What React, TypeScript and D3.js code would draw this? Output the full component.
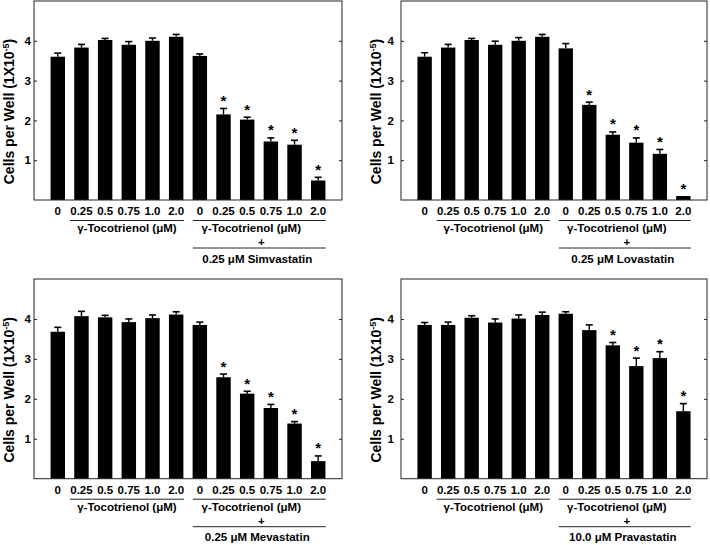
import React, { useEffect, useRef } from 'react';
import * as d3 from 'd3';

// dose labels, shared by both groups in every panel
const doses = ['0', '0.25', '0.5', '0.75', '1.0', '2.0'];
const yTicks = [1, 2, 3, 4];

// means (1x10^-5 cells per well) and SEM, 6 tocotrienol-only then 6 with statin
const simvastatinMeans = [3.6, 3.83, 4.02, 3.9, 4.0, 4.1, 3.62, 2.15, 2.02, 1.47, 1.39, 0.49];
const simvastatinErrors = [0.09, 0.08, 0.04, 0.08, 0.07, 0.06, 0.05, 0.15, 0.06, 0.09, 0.11, 0.08];
const simvastatinStars = [0, 0, 0, 0, 0, 0, 0, 1, 1, 1, 1, 1];

const lovastatinMeans = [3.6, 3.83, 4.02, 3.9, 4.0, 4.1, 3.81, 2.39, 1.64, 1.44, 1.16, 0.1];
const lovastatinErrors = [0.1, 0.08, 0.04, 0.09, 0.08, 0.06, 0.12, 0.07, 0.07, 0.12, 0.11, 0];
const lovastatinStars = [0, 0, 0, 0, 0, 0, 0, 1, 1, 1, 1, 1];

const mevastatinMeans = [3.68, 4.07, 4.04, 3.92, 4.02, 4.11, 3.85, 2.54, 2.13, 1.77, 1.38, 0.44];
const mevastatinErrors = [0.11, 0.12, 0.05, 0.08, 0.08, 0.07, 0.07, 0.08, 0.06, 0.09, 0.05, 0.13];
const mevastatinStars = [0, 0, 0, 0, 0, 0, 0, 1, 1, 1, 1, 1];

const pravastatinMeans = [3.85, 3.85, 4.03, 3.91, 4.01, 4.1, 4.13, 3.72, 3.34, 2.82, 3.02, 1.69];
const pravastatinErrors = [0.06, 0.07, 0.05, 0.09, 0.09, 0.07, 0.05, 0.13, 0.07, 0.2, 0.16, 0.19];
const pravastatinStars = [0, 0, 0, 0, 0, 0, 0, 0, 1, 1, 1, 1];

const panels = [
  { means: simvastatinMeans, errors: simvastatinErrors, stars: simvastatinStars, statin: '0.25 \u03bcM Simvastatin', x0: 34, x1: 342, top: 1, bottom: 200, gap: 3 },
  { means: lovastatinMeans, errors: lovastatinErrors, stars: lovastatinStars, statin: '0.25 \u03bcM Lovastatin', x0: 401, x1: 707, top: 1, bottom: 200, gap: 7 },
  { means: mevastatinMeans, errors: mevastatinErrors, stars: mevastatinStars, statin: '0.25 \u03bcM Mevastatin', x0: 34, x1: 342, top: 279, bottom: 478.7, gap: 3 },
  { means: pravastatinMeans, errors: pravastatinErrors, stars: pravastatinStars, statin: '10.0 \u03bcM Pravastatin', x0: 401, x1: 707, top: 279, bottom: 478.7, gap: 7 },
];

const font = 'Liberation Sans, Arial, Helvetica, sans-serif';

const App = () => {
  const chartRef = useRef(null);

  useEffect(() => {
    const svg = d3.select(chartRef.current);
    svg.selectAll('*').remove();

    panels.forEach(p => {
      const g = svg.append('g');
      const keys = d3.range(12);
      const x = d3.scaleBand()
        .domain(keys)
        .range([p.x0, p.x1])
        .paddingInner(0.39)
        .paddingOuter(0.7);
      const y = d3.scaleLinear().domain([0, 5]).range([p.bottom, p.top]);
      const cx = i => x(i) + x.bandwidth() / 2;

      // bars
      g.selectAll('rect.bar')
        .data(p.means)
        .join('rect')
        .attr('class', 'bar')
        .attr('x', (d, i) => x(i))
        .attr('y', d => y(d))
        .attr('width', x.bandwidth())
        .attr('height', d => y(0) - y(d))
        .attr('fill', '#000');

      // error bars (upper only)
      p.means.forEach((m, i) => {
        const e = p.errors[i];
        if (e <= 0) return;
        g.append('line')
          .attr('x1', cx(i)).attr('x2', cx(i))
          .attr('y1', y(m)).attr('y2', y(m + e))
          .attr('stroke', '#000').attr('stroke-width', 1.4);
        g.append('line')
          .attr('x1', cx(i) - 3.5).attr('x2', cx(i) + 3.5)
          .attr('y1', y(m + e)).attr('y2', y(m + e))
          .attr('stroke', '#000').attr('stroke-width', 1.6);
      });

      // significance stars
      p.means.forEach((m, i) => {
        if (!p.stars[i]) return;
        g.append('text')
          .attr('x', cx(i))
          .attr('y', y(m + p.errors[i]) - 2.5)
          .attr('text-anchor', 'middle')
          .style('font', `bold 15px ${font}`)
          .text('*');
      });

      // frame
      g.append('rect')
        .attr('x', p.x0).attr('y', p.top)
        .attr('width', p.x1 - p.x0).attr('height', p.bottom - p.top)
        .attr('fill', 'none').attr('stroke', '#222').attr('stroke-width', 1);

      // inward ticks on both sides
      const leftAxis = d3.axisLeft(y).tickValues(yTicks).tickSizeInner(-3).tickSizeOuter(0)
        .tickPadding(p.gap).tickFormat(d3.format('d'));
      const rightAxis = d3.axisRight(y).tickValues(yTicks).tickSizeInner(-3).tickSizeOuter(0).tickFormat(() => '');
      const la = g.append('g').attr('transform', `translate(${p.x0},0)`).call(leftAxis);
      la.select('.domain').remove();
      la.selectAll('text').style('font', `bold 11.5px ${font}`).attr('fill', '#000');
      la.selectAll('line').attr('stroke', '#222');
      const ra = g.append('g').attr('transform', `translate(${p.x1},0)`).call(rightAxis);
      ra.select('.domain').remove();
      ra.selectAll('line').attr('stroke', '#222');

      // y title
      const title = g.append('text')
        .attr('transform', `translate(${p.x0 - 20},${(p.top + p.bottom) / 2 + 11}) rotate(-90)`)
        .attr('text-anchor', 'middle')
        .style('font', `bold 14px ${font}`);
      title.append('tspan').text('Cells per Well (1X10');
      title.append('tspan').attr('dy', -5).style('font-size', '9px').text('-5');
      title.append('tspan').attr('dy', 5).text(')');

      // dose labels
      g.selectAll('text.dose')
        .data(keys)
        .join('text')
        .attr('class', 'dose')
        .attr('x', i => cx(i))
        .attr('y', p.bottom + 15)
        .attr('text-anchor', 'middle')
        .style('font', `bold 11.5px ${font}`)
        .text(i => doses[i % 6]);

      // group brackets
      const l1a = cx(1) - 11.5, l1b = cx(5) + 7.7;
      const l2a = cx(6) - 7, l2b = cx(11) + 7.5;
      [[l1a, l1b, p.bottom + 20.5], [l2a, l2b, p.bottom + 20.5], [l2a, l2b, p.bottom + 48]].forEach(([a, b, yy]) => {
        g.append('line')
          .attr('x1', a).attr('x2', b).attr('y1', yy).attr('y2', yy)
          .attr('stroke', '#222').attr('stroke-width', 1);
      });

      const addLabel = (tx, ty, s) => g.append('text')
        .attr('x', tx).attr('y', ty)
        .attr('text-anchor', 'middle')
        .style('font', `bold 11.5px ${font}`)
        .text(s);
      const mid2 = (l2a + l2b) / 2;
      addLabel((l1a + l1b) / 2, p.bottom + 32, '\u03b3-Tocotrienol (\u03bcM)');
      addLabel(mid2 - 8, p.bottom + 32, '\u03b3-Tocotrienol (\u03bcM)');
      addLabel(mid2 + 2, p.bottom + 46, '+');
      addLabel(mid2 - 2, p.bottom + 62.5, p.statin);
    });
  }, []);

  return (
    <svg ref={chartRef} width={710} height={545}
      style={{ position: 'absolute', left: 0, top: 0, background: '#fff' }} />
  );
};

export default App;
